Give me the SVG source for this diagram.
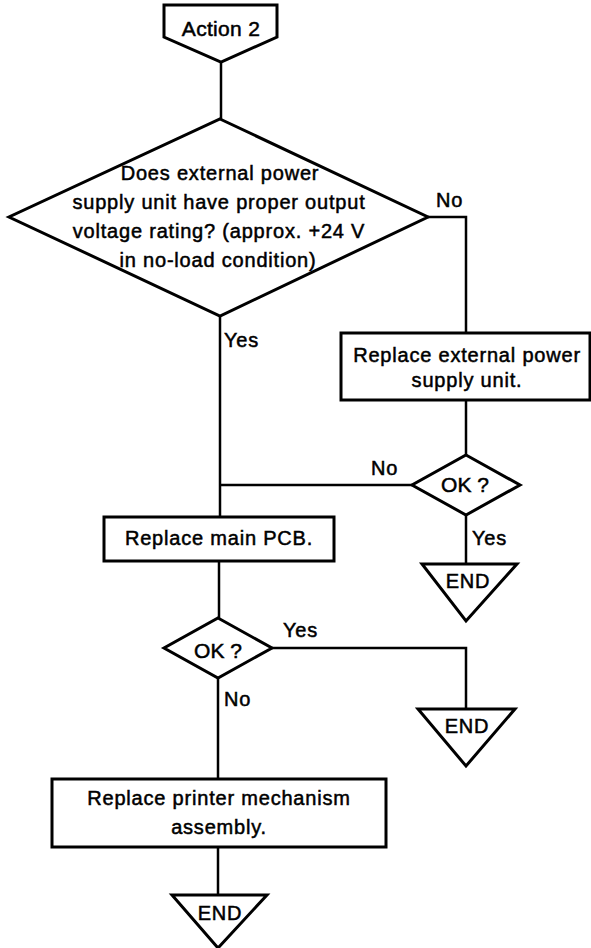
<svg xmlns="http://www.w3.org/2000/svg" width="591" height="948" viewBox="0 0 591 948">
<style>
.s{fill:#fff;stroke:#000;stroke-width:3;stroke-linejoin:miter}
.c{fill:none;stroke:#000;stroke-width:2.5}
text{font-family:"Liberation Sans",Arial,Helvetica,sans-serif;font-size:20px;fill:#000;stroke:#000;stroke-width:0.5;letter-spacing:0.8px}
.m{text-anchor:middle}
</style>
<rect width="591" height="948" fill="#fff"/>
<g id="connectors">
<polyline class="c" points="221,62 221,120"/>
<polyline class="c" points="428,217 466,217 466,333"/>
<polyline class="c" points="466,400 466,455"/>
<polyline class="c" points="466,515 466,564"/>
<polyline class="c" points="220,316 220,517"/>
<polyline class="c" points="412,485 220,485"/>
<polyline class="c" points="219,561 219,618"/>
<polyline class="c" points="272,648 466,648 466,709"/>
<polyline class="c" points="218,678 218,779"/>
<polyline class="c" points="218,847 218,895"/>
<text x="436" y="207">No</text>
<text x="224" y="347">Yes</text>
<text x="371" y="475">No</text>
<text x="472" y="545">Yes</text>
<text x="283" y="637">Yes</text>
<text x="224" y="706">No</text>
</g>
<g id="action2">
<polygon class="s" points="164,5 277,5 277,37 221,62 164,37"/>
<text class="m" x="221" y="36" style="font-size:21px;letter-spacing:0.3px">Action 2</text>
</g>
<g id="decision1">
<polygon class="s" points="220,119 428,217 220,316 9,217"/>
<text class="m" x="220" y="180">Does external power</text>
<text class="m" x="219" y="209">supply unit have proper output</text>
<text class="m" x="219" y="238">voltage rating? (approx. +24 V</text>
<text class="m" x="218" y="267">in no-load condition)</text>
</g>
<g id="replacePSU">
<rect class="s" x="341" y="333" width="249" height="67"/>
<text class="m" x="467" y="362">Replace external power</text>
<text class="m" x="467" y="387">supply unit.</text>
</g>
<g id="ok1">
<polygon class="s" points="466,455 520,485 466,515 412,485"/>
<text class="m" x="465" y="492" style="font-size:21px;letter-spacing:0">OK ?</text>
</g>
<g id="end1">
<polygon class="s" points="422,564 517,564 466,621"/>
<text class="m" x="468" y="588">END</text>
</g>
<g id="replacePCB">
<rect class="s" x="104" y="517" width="230" height="44"/>
<text class="m" x="219" y="545">Replace main PCB.</text>
</g>
<g id="ok2">
<polygon class="s" points="218,618 272,648 218,678 164,648"/>
<text class="m" x="218" y="658" style="font-size:21px;letter-spacing:0">OK ?</text>
</g>
<g id="end2">
<polygon class="s" points="418,709 515,709 466,766"/>
<text class="m" x="467" y="733">END</text>
</g>
<g id="replaceMech">
<rect class="s" x="52" y="779" width="334" height="68"/>
<text class="m" x="219" y="805">Replace printer mechanism</text>
<text class="m" x="219" y="834">assembly.</text>
</g>
<g id="end3">
<polygon class="s" points="172,895 267,895 218,948"/>
<text class="m" x="220" y="920">END</text>
</g>
</svg>
